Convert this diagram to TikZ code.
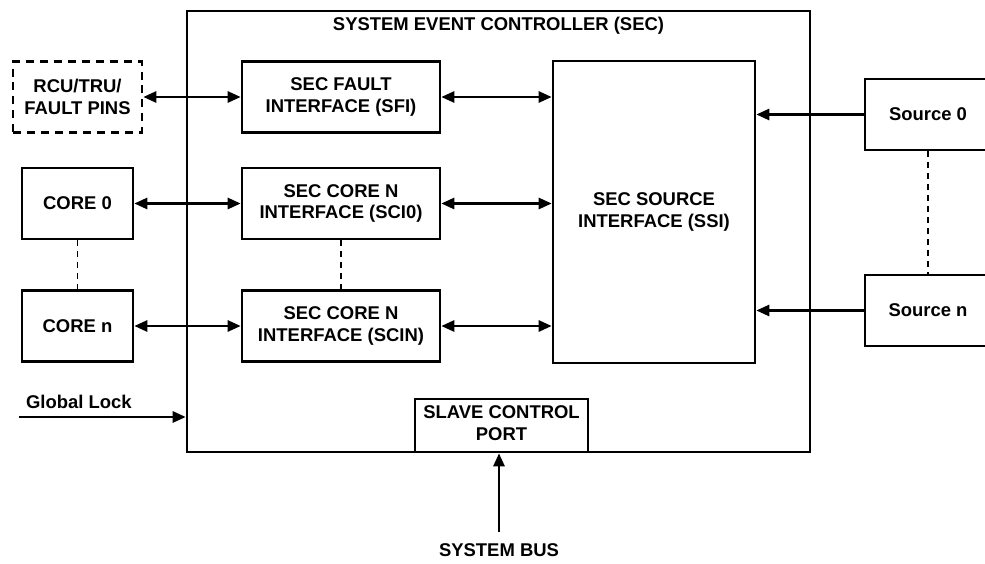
\documentclass[tikz,border=0pt]{standalone}
\usepackage{fontspec}
\setmainfont{Liberation Sans}
\usepackage{tikz}
\usetikzlibrary{positioning,arrows.meta}

\begin{document}
\begin{tikzpicture}[x=0.02cm, y=-0.02cm,
    font=\fontsize{10.5}{12.3}\selectfont\bfseries,
    blk/.style={draw, line width=1.5pt, align=center, inner sep=0pt},
    link/.style={line width=1.5pt, {Triangle[length=2.6mm,width=2.2mm]}-{Triangle[length=2.6mm,width=2.2mm]}},
    into/.style={line width=1.5pt, -{Triangle[length=2.6mm,width=2.2mm]}},
    dots/.style={line width=0.9pt, dash pattern=on 1.2mm off 1mm}]
        \useasboundingbox (0,0) rectangle (985,564);

        % Controller frame
        \node[blk, minimum width=12.46cm, minimum height=8.82cm] (sec) at (498.5,231.5) {};
        \node (title) at (498.5,26) {SYSTEM EVENT CONTROLLER (SEC)};

        % Inner blocks
        \node[blk, minimum width=3.96cm, minimum height=1.42cm] (sfi)  at (341,97)    {SEC FAULT\\INTERFACE (SFI)};
        \node[blk, minimum width=3.96cm, minimum height=1.42cm] (sci0) at (341,203.5) {SEC CORE N\\INTERFACE (SCI0)};
        \node[blk, minimum width=3.96cm, minimum height=1.42cm] (scin) at (341,326)   {SEC CORE N\\INTERFACE (SCIN)};
        \node[blk, minimum width=4.04cm, minimum height=6.04cm] (ssi)  at (654,212)   {SEC SOURCE\\INTERFACE (SSI)};
        \node[blk, minimum width=3.46cm, minimum height=1.06cm] (scp)  at (501.5,425.5) {};
        \node[align=center] (scptext) at (501.5,423) {SLAVE CONTROL\\PORT};

        % Outside blocks
        \node[blk, dash pattern=on 1.6mm off 1.2mm, minimum width=2.58cm, minimum height=1.42cm] (rcu) at (77.5,97) {RCU/TRU/\\FAULT PINS};
        \node[blk, minimum width=2.22cm, minimum height=1.42cm] (core0) at (77.5,203.5) {CORE 0};
        \node[blk, minimum width=2.22cm, minimum height=1.42cm] (coren) at (77.5,326)   {CORE n};
        \node[blk, minimum width=2.52cm, minimum height=1.42cm] (src0) at (928,114.5) {Source 0};
        \node[blk, minimum width=2.52cm, minimum height=1.42cm] (srcn) at (928,310.5) {Source n};

        % Outside labels
        \node (bus) at (499,550) {SYSTEM BUS};
        \coordinate (gl) at (19,417);
        \node[anchor=south west, inner sep=1pt] (gltext) at (24,411) {Global Lock};

        % Links
        \draw[link] (rcu) -- (sfi);
        \draw[link] (core0) -- (sci0);
        \draw[link] (coren) -- (scin);
        \draw[link] (sfi.east) -- (sfi.east -| ssi.west);
        \draw[link] (sci0.east) -- (sci0.east -| ssi.west);
        \draw[link] (scin.east) -- (scin.east -| ssi.west);
        \draw[into] (src0.west) -- (src0.west -| ssi.east);
        \draw[into] (srcn.west) -- (srcn.west -| ssi.east);
        \draw[into] (gl) -- (gl -| sec.west);
        \draw[into] (bus.north) ++(0,-5) coordinate (busend) (busend) -- (busend |- scp.south);

        % Dashed ellipsis lines
        \draw[dots] (core0) -- (coren);
        \draw[dots] (sci0) -- (scin);
        \draw[dots] (src0) -- (srcn);
    \end{tikzpicture}
\end{document}
